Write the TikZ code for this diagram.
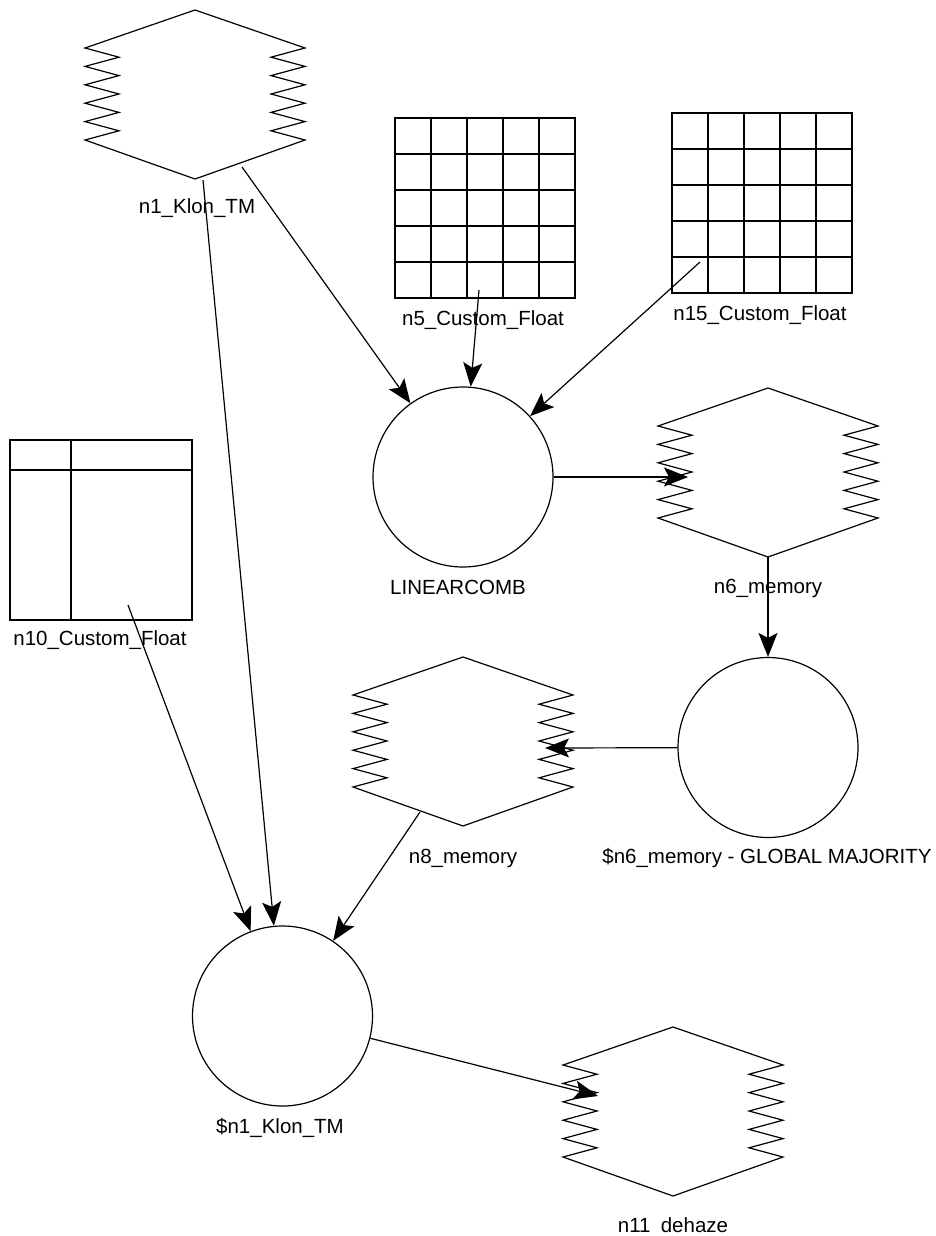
\documentclass[tikz,border=0pt]{standalone}
\usepackage{fontspec}
\setmainfont{Liberation Sans}
\usetikzlibrary{arrows.meta}
\begin{document}
\begin{tikzpicture}[x=1pt,y=-1pt,line width=1.2pt,
  lbl/.style={font=\fontsize{20.5}{24}\selectfont, inner sep=0pt, anchor=center},
  circ/.style={circle, draw, minimum size=180pt, inner sep=0pt},
  gridbox/.style={draw, line width=1.5pt, minimum width=180pt, minimum height=180pt, inner sep=0pt},
  gridline/.style={line width=1.5pt},
  holder/.style={draw=none, minimum width=220pt, minimum height=169pt, inner sep=0pt},
  arr/.style={-{Stealth[length=24pt,width=19pt,inset=5pt]}},
  memory/.pic={
    \draw (0,0) -- (-110,38)
      \foreach \i in {0,...,4} { -- (-76,{47.2+18.4*\i}) -- (-110,{56.4+18.4*\i}) }
      -- (0,169) -- (110,130)
      \foreach \i in {0,...,4} { -- (76,{120.8-18.4*\i}) -- (110,{111.6-18.4*\i}) }
      -- cycle;
  }]
\useasboundingbox[fill=white] (0,0) rectangle (936,1236);

% memory shapes
\pic at (195,10) {memory};
\node[holder] (n1) at (195,94.5) {};
\pic at (768,388) {memory};
\node[holder] (n6) at (768,472.5) {};
\pic at (463,657) {memory};
\node[holder] (n8) at (463,741.5) {};
\pic at (673,1027) {memory};
\node[holder] (n11) at (673,1111.5) {};

% grids
\node[gridbox] (n5) at (485,208) {};
\foreach \k in {1,...,4} {
  \draw[gridline] (395+36*\k,118) -- (395+36*\k,298);
  \draw[gridline] (395,118+36*\k) -- (575,118+36*\k);
}
\node[gridbox] (n15) at (762,203) {};
\foreach \k in {1,...,4} {
  \draw[gridline] (672+36*\k,113) -- (672+36*\k,293);
  \draw[gridline] (672,113+36*\k) -- (852,113+36*\k);
}
\node[draw, line width=1.5pt, minimum width=182pt, minimum height=180pt, inner sep=0pt] (n10) at (101,530) {};
\draw[gridline] (71,440) -- (71,620);
\draw[gridline] (10,470) -- (192,470);

% circles
\node[circ] (lc) at (463,477) {};
\node[circ] (gm) at (768,747.5) {};
\node[circ] (kt) at (282.5,1016) {};

% connector ends
\coordinate (n1a) at (203,180);
\coordinate (n1b) at (242,167);
\coordinate (n5o) at (479,290);
\coordinate (n15o) at (700,262);
\coordinate (n6o) at (768,557);
\coordinate (n10o) at (128,605);
\coordinate (n8o) at (420,812);
\coordinate (n6i) at (688,477);
\coordinate (n8i) at (545,748);
\coordinate (n11i) at (598,1096);

% connectors
\draw[arr] (n1a) -- (kt);
\draw[arr] (n1b) -- (lc);
\draw[arr] (n5o) -- (lc);
\draw[arr] (n15o) -- (lc);
\draw[arr] (lc) -- (n6i);
\draw[arr] (n6o) -- (gm);
\draw[arr] (gm) -- (n8i);
\draw[arr] (n10o) -- (kt);
\draw[arr] (n8o) -- (kt);
\draw[arr] (kt) -- (n11i);

% labels
\node[lbl] (n1l) at (197,208) {n1\_Klon\_TM};
\node[lbl] (n5l) at (483,320) {n5\_Custom\_Float};
\node[lbl] (n15l) at (760,315) {n15\_Custom\_Float};
\node[lbl] (lcl) at (458,587) {LINEARCOMB};
\node[lbl] (n6l) at (768,588) {n6\_memory};
\node[lbl] (n10l) at (100,640) {n10\_Custom\_Float};
\node[lbl] (n8l) at (463,858) {n8\_memory};
\node[lbl] (gml) at (767,858) {\$n6\_memory - GLOBAL MAJORITY};
\node[lbl] (ktl) at (280,1128) {\$n1\_Klon\_TM};
\node[lbl] (n11l) at (673,1225) {n11\enspace dehaze};
\end{tikzpicture}
\end{document}
